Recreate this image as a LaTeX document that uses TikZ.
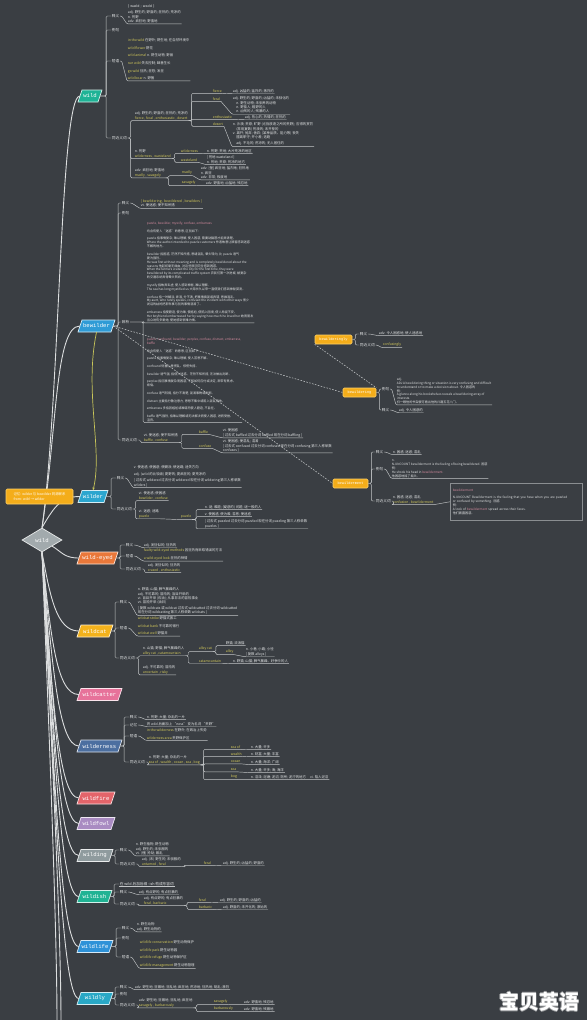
\documentclass[tikz,border=0pt]{standalone}
\usepackage{fontspec}
\setmainfont{Noto Sans CJK SC}
\newfontfamily\mono{Liberation Mono}
\newfontfamily\ipa{DejaVu Sans}
\usetikzlibrary{shapes.geometric,arrows.meta}
\definecolor{bg}{HTML}{3A3E43}
\definecolor{lc}{HTML}{C3C6C8}
\definecolor{tr}{HTML}{DCDEDF}
\definecolor{tc}{HTML}{E2E4E5}
\definecolor{yl}{HTML}{D3C95A}
\definecolor{pk}{HTML}{D78CA0}
\definecolor{og}{HTML}{F4AD1A}
\definecolor{ogl}{HTML}{FBD06A}
\definecolor{gy}{HTML}{A2AAAD}
\definecolor{nb}{HTML}{8A8E91}
\definecolor{ylw}{HTML}{C9C65A}
\definecolor{wmg}{HTML}{9A9C9E}
\definecolor{c1}{HTML}{1FB396}
\definecolor{c2}{HTML}{2F9BD6}
\definecolor{c3}{HTML}{2BA6CF}
\definecolor{c4}{HTML}{E9783A}
\definecolor{c5}{HTML}{F3B21C}
\definecolor{c6}{HTML}{E7729A}
\definecolor{c7}{HTML}{4C6FA0}
\definecolor{c8}{HTML}{E3646A}
\definecolor{c9}{HTML}{A98BC2}
\definecolor{c10}{HTML}{8F9B9E}
\definecolor{c11}{HTML}{20B394}
\definecolor{c12}{HTML}{2E92D8}
\definecolor{c13}{HTML}{29A8C6}
\newcommand\fs{\fontsize{3.4}{4.3}\selectfont}
\newcommand\fw{\fontsize{3.4}{7.6}\selectfont}
\newcommand\fd{\fontsize{3.1}{3.9}\selectfont}
\newcommand\fl{\fontsize{3.7}{4.3}\selectfont}
\newcommand\yy[1]{\textcolor{yl}{#1}}
\newcommand\pp[1]{\textcolor{pk}{#1}}
\tikzset{
 br/.style={draw=lc, line width=0.45pt, rounded corners=1.2pt},
 trk/.style={draw=tr, line width=0.9pt},
 dsh/.style={draw=lc, line width=0.55pt, dash pattern=on 1.6pt off 1.4pt},
 lb/.style={font=\fl, text=tc, inner sep=0.7pt, anchor=west},
 tl/.style={font=\fs, text=tc, inner sep=0.7pt, anchor=west},
 tx/.style={font=\fs, text=tc, inner sep=0.7pt, anchor=north west, align=left},
 tw/.style={font=\fw, text=tc, inner sep=0.7pt, anchor=north west, align=left},
 td/.style={font=\fd, text=tc, inner sep=0.7pt, anchor=north west, align=left},
 mtx/.style={inner sep=0pt, minimum height=12pt, text=white, font=\mono\fontsize{5.6}{6}\selectfont},
 ob/.style={fill=og, draw=ogl, line width=0.6pt, rounded corners=1.2pt, minimum height=9pt, inner xsep=1.5pt, inner ysep=0pt, text=white, font=\mono\fontsize{3.6}{4}\selectfont},
 wmk/.style={font=\bfseries\fontsize{20}{20}\selectfont, inner sep=0pt},
}
\newcommand\mnode[6]{%
 \filldraw[fill=#5, draw=white!80!#5, line width=0.7pt]
   ({#2-#4/2-2},{#3+6}) -- ({#2+#4/2-2},{#3+6}) -- ({#2+#4/2+2},{#3-6}) -- ({#2-#4/2+2},{#3-6}) -- cycle;
 \node[mtx, minimum width=#4pt] (#1) at (#2,#3) {#6};}
\newcommand\lnk[3]{\draw[br] (#1.east) -- ++(#2,0) |- (#3.west);}
\newcommand\uln[2]{\draw[br] (#1.east) -- ++(1.5,0) -- (#2.south west) -- (#2.south east);}
\newcommand\grp[3]{\draw[br] (#1.east) -- ++(#2,0) |- (#3.south west) -- (#3.south east);}
\newcommand\ubr[3]{\draw[br] (#1.south east) -- ++(#2,0) |- (#3.south west) -- (#3.south east);}
\newcommand\sxp[2]{\draw[br] (#1.south east) -- (#2.south west) -- (#2.south east);}
\begin{document}
\begin{tikzpicture}[x=1pt,y=-1pt]
\fill[bg] (0,0) rectangle (587,1020);
\useasboundingbox (0,0) rectangle (587,1020);

% ---------- central diamond and main nodes
\node[diamond, aspect=1.7, fill=gy, draw=white!75!gy, line width=0.7pt, minimum width=40pt, minimum height=24pt, inner sep=0pt, text=white, font=\mono\fontsize{5.6}{6}\selectfont] (dia) at (42,540) {wild};
\mnode{wild}{90}{96}{20}{c1}{wild}
\mnode{bew}{96.5}{326}{33}{c2}{bewilder}
\mnode{wdr}{93}{496.5}{26}{c3}{wilder}
\mnode{we}{97.5}{558}{37}{c4}{wild-eyed}
\mnode{wc}{95}{631}{32}{c5}{wildcat}
\mnode{wct}{99.5}{694.5}{41}{c6}{wildcatter}
\mnode{wn}{99.5}{746}{41}{c7}{wilderness}
\mnode{wf}{96}{798}{34}{c8}{wildfire}
\mnode{wfl}{96}{823.5}{34}{c9}{wildfowl}
\mnode{wdg}{95}{855.5}{32}{c10}{wilding}
\mnode{wsh}{94.5}{896.5}{31}{c11}{wildish}
\mnode{wl}{95}{946.5}{32}{c12}{wildlife}
\mnode{wly}{95}{998.5}{32}{c13}{wildly}

% ---------- trunk
\draw[trk] (dia.north) .. controls (60,400) and (60,96) .. (wild.west);
\draw[trk] (dia.north) .. controls (57,430) and (55,326) .. (bew.west);
\draw[trk] (dia.north) .. controls (55,505) and (62,496.5) .. (wdr.west);
\draw[trk] (dia.south east) .. controls (62,552) and (64,558) .. (we.west);
\draw[trk] (dia.south) .. controls (50,595) and (56,631) .. (wc.west);
\draw[trk] (dia.south) .. controls (51,640) and (57,694.5) .. (wct.west);
\draw[trk] (dia.south) .. controls (52,660) and (58,746) .. (wn.west);
\draw[trk] (dia.south) .. controls (52,690) and (58,798) .. (wf.west);
\draw[trk] (dia.south) .. controls (53,700) and (59,823.5) .. (wfl.west);
\draw[trk] (dia.south) .. controls (53,720) and (59,855.5) .. (wdg.west);
\draw[trk] (dia.south) .. controls (54,740) and (60,896.5) .. (wsh.west);
\draw[trk] (dia.south) .. controls (54,760) and (60,946.5) .. (wl.west);
\draw[trk] (dia.south) .. controls (55,780) and (61,998.5) .. (wly.west);
\coordinate (o1) at (57,1022);
\coordinate (o2) at (61,1022);
\draw[trk] (dia.south) .. controls (52,800) and (57,950) .. (o1);
\draw[trk] (dia.south) .. controls (55,800) and (61,950) .. (o2);

% ---------- wild
\node[lb] (w1) at (111,16) {释义};
\node[lb] (w2) at (111,30) {例句};
\node[lb] (w3) at (111,61) {短语};
\node[lb] (w4) at (111,138) {同近义词};
\foreach \t in {w1,w2,w3,w4}{\lnk{wild}{6}{\t}}
\node[tx] (w1c) at (127,4) {{\ipa [ waɪld ; waɪld ]}\\[2pt] adj. 野生的; 野蛮的; 狂热的; 荒凉的\\ n. 荒野\\ adv. 疯狂地; 野蛮地};
\uln{w1}{w1c}
\node[tw] (w3c) at (127,38) {\yy{in the wild} 在野外; 野生地; 在自然环境中\\ \yy{wild flower} 野花\\ \yy{wild animal} n. 野生动物; 野兽\\ \yy{run wild} 失去控制; 肆意生长\\ \yy{go wild} 狂热; 狂怒; 发狂\\ \yy{wild boar} n. 野猪};
\uln{w3}{w3c}
\node[tx] (g1) at (134,111) {adj. 野生的; 野蛮的; 狂热的; 荒凉的\\ \yy{fierce , feral , enthusiastic , desert}};
\node[tx] (g2) at (134,149) {n. 荒野\\ \yy{wilderness , wasteland}};
\node[tx] (g3) at (134,168) {adv. 疯狂地; 野蛮地\\ \yy{madly , savagely}};
\foreach \t in {g1,g2,g3}{\grp{w4}{3}{\t}}
\node[tl] (s11) at (212,91) {\yy{fierce}};
\node[tl] (d11) at (232,91) {adj. 凶猛的; 猛烈的; 激烈的};
\node[tl] (s12) at (212,99) {\yy{feral}};
\node[tx] (d12) at (232,96) {adj. 野生的; 野蛮的; 凶猛的; 未驯化的\\ \quad n. 野生动物; 未驯养的动物\\ \quad n. 野蛮人; 粗野的人\\ \quad n. 凶残的人; 残暴的人};
\node[tl] (s13) at (212,117) {\yy{enthusiastic}};
\node[tl] (d13) at (244,117) {adj. 热心的; 热情的; 狂热的};
\node[tl] (s14) at (212,124) {\yy{desert}};
\node[tx] (d14) at (232,122) {n. 沙漠; 荒原; 旷野 (尤指放逐之所的荒野); 应得的赏罚\\ \quad (常用复数) 荒漠的; 未开垦的\\ v. 离开; 抛弃; 舍弃; (某种品质、能力等) 丧失\\ \quad 擅离职守; 开小差; 逃跑\\[2pt] \quad adj. 不毛的; 荒凉的; 无人居住的};
\foreach \t in {s11,s12,s13,s14}{\ubr{g1}{3}{\t}}
\sxp{s11}{d11} \sxp{s12}{d12} \sxp{s13}{d13} \sxp{s14}{d14}
\node[tl] (s21) at (180,151) {\yy{wilderness}};
\node[tl] (d21) at (206,151) {n. 荒野; 荒地; 大片荒凉的地区};
\node[tl] (s22) at (180,160) {\yy{wasteland}};
\node[tx] (d22) at (206,155) {[ 荒地 wasteland ]\\ n. 荒地; 荒原; 荒凉的地方};
\ubr{g2}{3}{s21} \ubr{g2}{3}{s22} \sxp{s21}{d21} \sxp{s22}{d22}
\node[tl] (s31) at (181,173) {\yy{madly}};
\node[tx] (d31) at (200,166) {adv. [俚] 疯狂地; 猛烈地; 狂热地\\ n. 疯狂\\ adv. 非常; 极度地};
\node[tl] (s32) at (181,183) {\yy{savagely}};
\node[tl] (d32) at (205,183) {adv. 野蛮地; 凶猛地; 残忍地};
\ubr{g3}{3}{s31} \ubr{g3}{3}{s32} \sxp{s31}{d31} \sxp{s32}{d32}

% ---------- bewilder
\node[lb] (b1) at (121,203) {释义};
\node[lb] (b2) at (121,213) {例句};
\node[lb] (b3) at (121,322) {辨析};
\node[lb] (b4) at (121,440) {同近义词};
\foreach \t in {b1,b2,b3,b4}{\lnk{bew}{5}{\t}}
\node[tx] (b1c) at (140,199) {\yy{[ bewildering , bewildered , bewilders ]}\\ vt. 使迷惑; 使不知所措};
\uln{b1}{b1c}
\node[td] (bA) at (146,221) {\pp{puzzle, bewilder, mystify, confuse, embarrass}\\[3.8pt]
均含有使人“迷惑”的意思, 区别如下:\\[3.8pt]
puzzle 指事情复杂, 难以理解, 使人困惑, 需要动脑筋才能弄清楚。\\
Where the author intended to puzzle customers 作者故意让顾客感到迷惑\\
不解的地方。\\[3.8pt]
bewilder 指困惑, 茫然不知所措, 思绪混乱, 晕头转向, 比 puzzle 语气\\
更为强烈。\\
He was first without meaning and is completely bewildered about the\\
reasons 他起初毫无缘由, 对这些原因完全感到困惑。\\
When the farmers visited the city for the first time, they were\\
bewildered by its complicated traffic system 农民们第一次进城, 被复杂\\
的交通系统弄得晕头转向。\\[3.8pt]
mystify 指故弄玄虚, 使人感到神秘, 难以理解。\\
The sea has long mystified us 大海长久以来一直使我们感到神秘莫测。\\[3.8pt]
confuse 指一时糊涂, 弄混, 分不清, 把事情搞混或弄错, 思维混乱。\\
My aunt, who rarely speaks, confused the incident with other ways 很少\\
说话的姑妈把那件事与别的事情混淆了。\\[3.8pt]
embarrass 指使窘迫, 使为难, 使尴尬, 使陷入困境, 使人局促不安。\\
Her boyfriend embarrassed her by saying how much he loved her 她男朋友\\
当众说有多爱她, 使她感到很难为情。};
\node[td] (bB) at (146,337) {\pp{puzzle, confound, bewilder, perplex, confuse, distract, embarrass,}\\ \pp{baffle}\\[3.8pt]
均含有使人“迷惑”的意思, 区别如下:\\[3.8pt]
puzzle 指事情复杂, 难以理解, 使人苦思不解。\\[3.8pt]
confound 侧重心里慌乱、惊慌失措。\\[3.8pt]
bewilder 语气强, 指使人迷惑、茫然不知所措, 无法做出判断。\\[3.8pt]
perplex 指因事情复杂而困惑, 不知如何应付或决定, 常带有焦虑、\\
烦恼。\\[3.8pt]
confuse 语气较弱, 指分不清楚, 混淆事物或判断。\\[3.8pt]
distract 主要指分散注意力, 思想不集中或陷入混乱境地。\\[3.8pt]
embarrass 多指因尴尬或难堪而使人窘迫, 不自在。\\[3.8pt]
baffle 语气强烈, 指难以理解或无法解决而使人困惑, 进而受挫、\\
沮丧。};
\grp{b3}{13}{bA} \grp{b3}{13}{bB}
\node[tx] (bg) at (143,433) {vt. 使迷惑; 使不知所措\\ \yy{baffle , confuse}};
\grp{b4}{3}{bg}
\node[tl] (bs1) at (198,432) {\yy{baffle}};
\node[tx] (bd1) at (222,428) {vt. 使困惑\\ \relax[ 过去式 baffled 过去分词 baffled 现在分词 baffling ]};
\node[tl] (bs2) at (198,446) {\yy{confuse}};
\node[tx] (bd2) at (222,439) {vt. 使困惑; 使混乱; 混淆\\ \relax[ 过去式 confused 过去分词 confused 现在分词 confusing 第三人称单数\\ confuses ]};
\ubr{bg}{3}{bs1} \ubr{bg}{3}{bs2} \sxp{bs1}{bd1} \sxp{bs2}{bd2}

% ---------- bewilder derived words
\node[ob, minimum width=37pt] (bly) at (333.5,339.5) {bewilderingly};
\node[ob, minimum width=33pt] (bing) at (359.5,392.5) {bewildering};
\node[ob, minimum width=35pt] (bmt) at (350.5,483.5) {bewilderment};
\draw[dsh] (bew.east) -- (bing.west);
\draw[dsh] (bew.east) -- (bmt.west);
\draw[dsh] (bly.south west) -- (bing.north east);
\node[lb] (ly1) at (359,334) {释义};
\node[lb] (ly2) at (359,345) {同近义词};
\lnk{bly}{3}{ly1} \lnk{bly}{3}{ly2}
\node[tl] (ly1c) at (378,333) {adv. 令人困惑地; 使人迷惑地};
\node[tl] (ly2c) at (382,345) {\yy{confusingly}};
\uln{ly1}{ly1c} \uln{ly2}{ly2c}
\node[lb] (ng1) at (381,389) {例句};
\node[lb] (ng2) at (381,410) {释义};
\lnk{bing}{3}{ng1} \lnk{bing}{3}{ng2}
\node[td] (ng1c) at (396,377) {adj.\\ ADJ A bewildering thing or situation is very confusing and difficult\\ to understand or to make a decision about. 令人困惑的\\ 例:\\ A glance along his bookshelves reveals a bewildering array of\\ interests.\\ 扫一眼他的书架便可看出他的兴趣五花八门。};
\node[tl] (ng2c) at (398,410) {adj. 令人困惑的};
\uln{ng1}{ng1c} \uln{ng2}{ng2c}
\node[lb] (mt1) at (375,452) {释义};
\node[lb] (mt2) at (375,469) {例句};
\node[lb] (mt3) at (375,501) {同近义词};
\lnk{bmt}{3}{mt1} \lnk{bmt}{3}{mt2} \lnk{bmt}{3}{mt3}
\node[tl] (mt1c) at (392,452) {n. 困惑; 迷惑; 混乱};
\node[td] (mt2c) at (391,459) {n.\\ N-UNCOUNT bewilderment is the feeling of being bewildered. 困惑\\ 例:\\ He shook his head in \pp{bewilderment}.\\ 他困惑地摇了摇头。};
\node[tx] (mt3c) at (392,495) {n. 困惑; 迷惑; 混乱\\ \yy{confusion , bewilderment}};
\uln{mt1}{mt1c} \uln{mt2}{mt2c} \grp{mt3}{2}{mt3c}
\node[draw=nb, line width=0.5pt, anchor=north west, minimum width=132pt, minimum height=37pt, text width=127pt, align=left, font=\fd, text=tc, inner sep=2.5pt] (note) at (450,483) {\pp{bewilderment}\\[3.8pt] N-UNCOUNT Bewilderment is the feeling that you have when you are puzzled\\ or confused by something. 困惑\\ 例:\\ A look of \pp{bewilderment} spread across their faces.\\ 他们面露困惑。};
\draw[br] (mt3c.south east) -- (note.west);

% ---------- wilder
\draw[ylw, line width=0.7pt, -{Stealth[length=3pt,width=2.4pt]}] (bew.south) .. controls (84,392) and (103,450) .. (wdr.north);
\node[fill=og, draw=ogl, line width=0.6pt, rounded corners=1.2pt, minimum width=67pt, minimum height=15pt, inner sep=1.5pt, align=left, text=white, font=\fs] (tip) at (39.5,496.5) {记忆: wilder 与 bewilder 同源联系\\ from: wild → wilder};
\node[lb] (r1) at (116,478) {释义};
\node[lb] (r2) at (116,509) {同近义词};
\lnk{wdr}{5}{r1} \lnk{wdr}{5}{r2}
\node[tx] (r1c) at (133,465) {v. 使迷惑; 使困惑; 使糊涂; 使迷路; 迷失方向\\[2.5pt] adj. (wild 的比较级) 更野的; 更疯狂的; 更荒凉的\\[2pt] \relax[ 过去式 wildered 过去分词 wildered 现在分词 wildering 第三人称单数\\ wilders ]};
\uln{r1}{r1c}
\node[tx] (rg1) at (138,491) {vi. 使迷惑; 使困惑\\ \yy{bewilder , confuse}};
\node[tx] (rg2) at (138,509) {vi. 迷惑; 迷路\\ \yy{puzzle}};
\grp{r2}{3}{rg1} \grp{r2}{3}{rg2}
\node[tl] (pz) at (180,517) {\yy{puzzle}};
\sxp{rg2}{pz}
\node[tl] (p1) at (204,507) {n. 谜; 难题; (疑惑的) 问题; 谜一般的人};
\node[tl] (p2) at (204,514) {v. 使困惑; 使为难; 苦思; 使迷惑};
\node[tx] (p3) at (204,519) {[ 过去式 puzzled 过去分词 puzzled 现在分词 puzzling 第三人称单数\\ puzzles ]};
\ubr{pz}{4}{p1} \ubr{pz}{4}{p2} \ubr{pz}{4}{p3}

% ---------- wild-eyed
\node[lb] (e1) at (125,545) {释义};
\node[lb] (e2) at (125,556) {短语};
\node[lb] (e3) at (125,569) {同近义词};
\foreach \t in {e1,e2,e3}{\lnk{we}{4}{\t}}
\node[tl] (e1c) at (143,545) {adj. 发狂似的; 狂热的};
\node[tw] (e2c) at (143,548) {\yy{faulty wild-eyed methods} 因狂热而采取错误的方法\\ \yy{a wild-eyed look} 狂热的神情};
\node[tx] (e3c) at (147,563) {adj. 发狂似的; 狂热的\\ \yy{crazed , enthusiastic}};
\uln{e1}{e1c} \uln{e2}{e2c} \grp{e3}{3}{e3c}

% ---------- wildcat
\node[lb] (k1) at (119,602) {释义};
\node[lb] (k2) at (119,628) {短语};
\node[lb] (k3) at (119,658) {同近义词};
\foreach \t in {k1,k2,k3}{\lnk{wc}{4}{\t}}
\node[tx] (k1c) at (137,587) {n. 野猫; 山猫; 脾气暴躁的人\\ adj. 不可靠的; 冒险的; 盲目开采的\\ vi. 盲目开采 (石油); 从事非法的冒险事业\\ vt. 冒险开采 (油井)\\[1.5pt] \relax[ 复数 wildcats 或 wildcat 过去式 wildcatted 过去分词 wildcatted\\ 现在分词 wildcatting 第三人称单数 wildcats ]};
\node[tw] (k2c) at (137,616) {\yy{wildcat strike} 野猫式罢工\\ \yy{wildcat bank} 不可靠的银行\\ \yy{wildcat well} 野猫井};
\uln{k1}{k1c} \uln{k2}{k2c}
\node[tx] (cg1) at (142,646) {n. 山猫; 野猫; 脾气暴躁的人\\ \yy{alley cat , catamountain}};
\node[tx] (cg2) at (142,665) {adj. 不可靠的; 冒险的\\ \yy{uncertain , risky}};
\grp{k3}{3}{cg1} \grp{k3}{3}{cg2}
\node[tl] (ac) at (198,649) {\yy{alley cat}};
\node[tl] (cm) at (198,661) {\yy{catamountain}};
\ubr{cg1}{3}{ac} \ubr{cg1}{3}{cm}
\node[tl] (a1) at (225,643) {野猫; 流浪猫};
\node[tl] (a2) at (225,652) {\yy{alley}};
\node[tx] (a2d) at (245,647) {n. 小巷; 小路; 小径\\ \relax[ 复数 alleys ]};
\ubr{ac}{3}{a1} \ubr{ac}{3}{a2} \sxp{a2}{a2d}
\node[tl] (cmd) at (232,661) {n. 野猫; 山猫; 脾气暴躁、好争吵的人};
\sxp{cm}{cmd}

% ---------- wilderness
\node[lb] (n1) at (129,717) {释义};
\node[lb] (n2) at (129,725) {记忆};
\node[lb] (n3) at (129,736) {短语};
\node[lb] (n4) at (129,762) {同近义词};
\foreach \t in {n1,n2,n3,n4}{\lnk{wn}{4}{\t}}
\node[tl] (n1c) at (146,717) {n. 荒野; 大量; 杂乱的一片};
\node[tl] (n2c) at (146,724) {将 wild 后面加上 “ness” 变为名词 “荒野”};
\node[tw] (n3c) at (146,728) {\yy{in the wilderness} 在野外; 在政治上失势\\ \yy{wilderness area} 荒野保护区};
\node[tx] (n4c) at (148,755) {n. 荒野; 大量; 杂乱的一片\\ \yy{sea of , wealth , ocean , sea , bog}};
\uln{n1}{n1c} \uln{n2}{n2c} \uln{n3}{n3c} \grp{n4}{3}{n4c}
\node[tl] (q1) at (230,747) {\yy{sea of}};
\node[tl] (q2) at (230,754) {\yy{wealth}};
\node[tl] (q3) at (230,762) {\yy{ocean}};
\node[tl] (q4) at (230,770) {\yy{sea}};
\node[tl] (q5) at (230,777) {\yy{bog}};
\node[tl] (qd1) at (250,747) {n. 大量; 许多};
\node[tl] (qd2) at (250,754) {n. 财富; 大量; 丰富};
\node[tl] (qd3) at (250,762) {n. 大量; 海洋; 广阔};
\node[tl] (qd4) at (250,770) {n. 大量; 许多; 海; 海洋};
\node[tl] (qd5) at (250,777) {n. 沼泽; 泥塘; 泥沼; 厕所; 泥泞的地方 \quad vi. 陷入泥沼};
\foreach \t in {q1,q2,q3,q4,q5}{\ubr{n4c}{3}{\t}}
\sxp{q1}{qd1} \sxp{q2}{qd2} \sxp{q3}{qd3} \sxp{q4}{qd4} \sxp{q5}{qd5}

% ---------- wilding
\node[lb] (d1) at (119,850) {释义};
\node[lb] (d2) at (119,864) {同近义词};
\lnk{wdg}{4}{d1} \lnk{wdg}{4}{d2}
\node[tx] (d1c) at (135,842) {n. 野生植物; 野生动物\\ adj. 野生的; 未驯服的\\ vt. (俚) 抢劫; 暴乱};
\node[tx] (d2c) at (141,857) {adj. (未) 野生的; 未驯服的\\ \yy{untamed , feral}};
\uln{d1}{d1c} \grp{d2}{3}{d2c}
\node[tl] (fe) at (203,863) {\yy{feral}};
\node[tl] (fed) at (222,863) {adj. 野生的; 凶猛的; 野蛮的};
\ubr{d2c}{3}{fe} \sxp{fe}{fed}

% ---------- wildish
\node[lb] (h0) at (119,884) {在 wild 后加后缀 -ish 构成形容词};
\node[lb] (h1) at (119,892) {释义};
\node[lb] (h2) at (119,904) {同近义词};
\foreach \t in {h0,h1,h2}{\lnk{wsh}{4}{\t}}
\draw[br] (h0.south west) -- (h0.south east);
\node[tl] (h1c) at (138,892) {adj. 有点野的; 有点狂暴的};
\node[tx] (h2c) at (143,896) {adj. 有点野的; 有点狂暴的\\ \yy{feral , barbaric}};
\uln{h1}{h1c} \grp{h2}{3}{h2c}
\node[tl] (hf) at (198,900) {\yy{feral}};
\node[tl] (hfd) at (219,900) {adj. 野生的; 野蛮的; 凶猛的};
\node[tl] (hb) at (198,907) {\yy{barbaric}};
\node[tl] (hbd) at (222,907) {adj. 野蛮的; 未开化的; 原始的};
\ubr{h2c}{3}{hf} \ubr{h2c}{3}{hb} \sxp{hf}{hfd} \sxp{hb}{hbd}

% ---------- wildlife
\node[lb] (l1) at (121,928) {释义};
\node[lb] (l2) at (121,938) {例句};
\node[lb] (l3) at (121,957) {短语};
\foreach \t in {l1,l2,l3}{\lnk{wl}{5}{\t}}
\node[tx] (l1c) at (136,922) {n. 野生动物\\ adj. 野生动物的};
\node[tw] (l3c) at (139,940) {\yy{wildlife conservation} 野生动物保护\\ \yy{wildlife park} 野生动物园\\ \yy{wildlife refuge} 野生动物保护区\\ \yy{wildlife management} 野生动物管理};
\uln{l1}{l1c} \uln{l3}{l3c}

% ---------- wildly
\node[lb] (y1) at (119,987) {释义};
\node[lb] (y2) at (119,994) {例句};
\node[lb] (y3) at (119,1005) {同近义词};
\foreach \t in {y1,y2,y3}{\lnk{wly}{4}{\t}}
\node[tl] (y1c) at (134,987) {adv. 野生地; 狂暴地; 狂乱地; 疯狂地; 荒凉地; 狂热地; 胡乱; 激烈};
\node[tx] (y3c) at (138,998) {adv. 野生地; 狂暴地; 狂乱地; 疯狂地\\ \yy{savagely , barbarously}};
\uln{y1}{y1c} \grp{y3}{3}{y3c}
\node[tl] (ys) at (213,1002) {\yy{savagely}};
\node[tl] (ysd) at (243,1002) {adv. 野蛮地; 残忍地};
\node[tl] (yb) at (213,1009) {\yy{barbarously}};
\node[tl] (ybd) at (243,1009) {adv. 野蛮地; 残暴地};
\ubr{y3c}{3}{ys} \ubr{y3c}{3}{yb} \sxp{ys}{ysd} \sxp{yb}{ybd}

% ---------- watermark
\node[wmk, text=wmg] (wma) at (538.2,1002) {宝贝英语};
\node[wmk, text=wmg] (wmb) at (539.8,1002) {宝贝英语};
\node[wmk, text=wmg] (wmc) at (539,1001.2) {宝贝英语};
\node[wmk, text=wmg] (wmd) at (539,1002.8) {宝贝英语};
\node[wmk, text=white] (wm) at (539,1002) {宝贝英语};
\end{tikzpicture}
\end{document}
